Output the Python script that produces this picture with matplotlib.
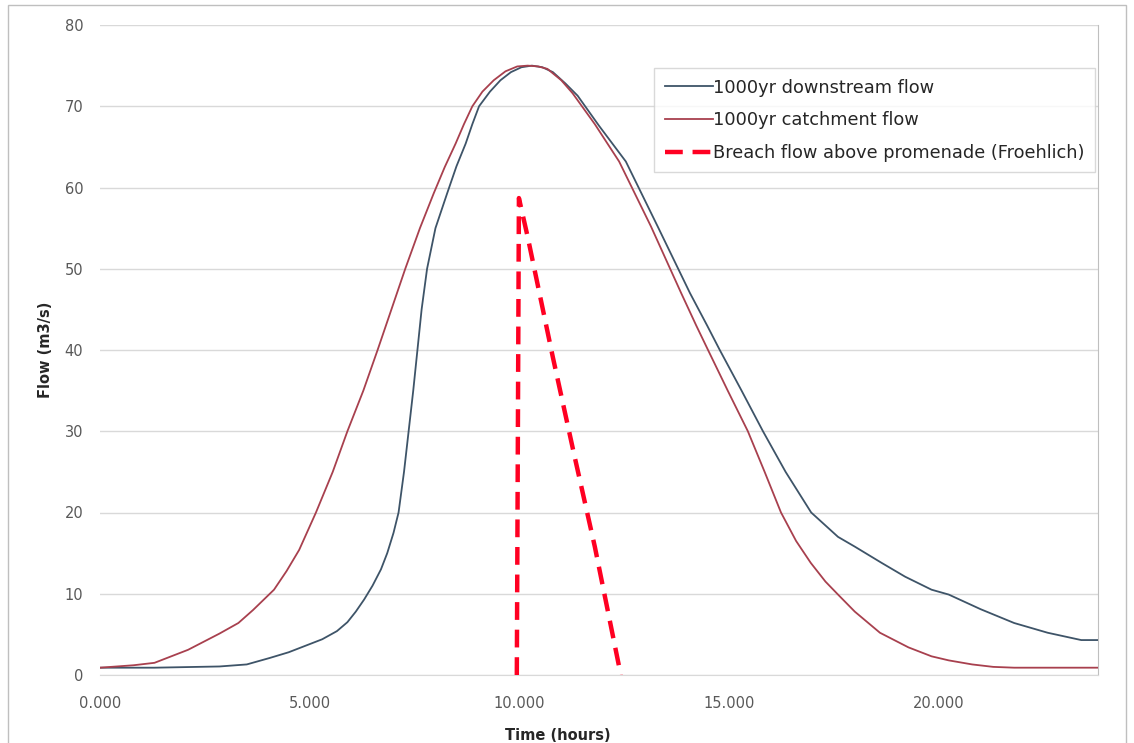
import matplotlib
matplotlib.use("Agg")
import matplotlib.pyplot as plt
from matplotlib.patches import Rectangle

# Hydrograph readings (time in hours, flow in m3/s)
catchment_t = [0.0, 0.8, 1.3, 2.1, 2.85, 3.3, 3.65, 4.15, 4.45, 4.75, 5.15, 5.55,
               5.9, 6.28, 6.62, 6.95, 7.28, 7.63, 7.96, 8.22, 8.48, 8.68, 8.88,
               9.12, 9.39, 9.67, 9.95, 10.2, 10.45, 10.67, 11.0, 11.27, 11.8,
               12.38, 13.14, 13.86, 14.22, 14.5, 14.97, 15.45, 15.85, 16.24,
               16.6, 16.95, 17.3, 17.6, 18.0, 18.6, 19.28, 19.83, 20.24, 20.8,
               21.3, 21.8, 23.8]
catchment_q = [0.9, 1.2, 1.5, 3.1, 5.1, 6.4, 8.0, 10.5, 12.8, 15.4, 20.0, 25.0,
               30.0, 35.0, 40.0, 45.0, 50.0, 55.0, 59.3, 62.5, 65.4, 67.8, 70.0,
               71.8, 73.2, 74.3, 74.9, 75.0, 74.9, 74.6, 73.2, 71.6, 67.8,
               63.2, 55.2, 47.0, 43.0, 40.0, 35.0, 30.0, 25.0, 20.0,
               16.5, 13.8, 11.5, 9.9, 7.8, 5.2, 3.4, 2.3, 1.8, 1.3,
               1.0, 0.9, 0.9]

downstream_t = [0.0, 1.3, 2.85, 3.5, 4.05, 4.5, 4.85, 5.3, 5.65, 5.9, 6.1, 6.3,
                6.5, 6.7, 6.85, 7.0, 7.12, 7.25, 7.36, 7.47, 7.57, 7.67, 7.8, 8.0,
                8.28, 8.5, 8.72, 8.88, 9.04, 9.3, 9.55, 9.8, 10.05, 10.3, 10.55,
                10.8, 11.1, 11.39, 11.9, 12.54, 13.3, 14.07, 14.48, 14.78, 15.3,
                15.81, 16.35, 16.96, 17.6, 18.0, 18.64, 19.2, 19.83, 20.24, 21.0,
                21.8, 22.6, 23.4, 23.8]
downstream_q = [0.9, 0.9, 1.05, 1.3, 2.1, 2.8, 3.5, 4.4, 5.4, 6.5, 7.8, 9.3,
                11.0, 13.0, 15.0, 17.5, 20.0, 25.0, 30.0, 35.0, 40.0, 45.0, 50.0, 55.0,
                59.3, 62.6, 65.4, 67.8, 70.0, 71.8, 73.2, 74.2, 74.8, 75.0, 74.8,
                74.2, 72.8, 71.3, 67.6, 63.2, 55.2, 47.0, 43.0, 40.0, 35.0,
                30.0, 25.0, 20.0, 17.0, 15.8, 13.8, 12.1, 10.5, 9.9, 8.1,
                6.4, 5.2, 4.3, 4.3]

breach_t = [9.94, 9.99, 10.2, 10.8, 11.3, 11.8, 12.42]
breach_q = [0.0, 58.7, 53.9, 39.1, 27.3, 15.8, 0.0]

x_ticks = [0, 5, 10, 15, 20]
y_ticks = [0, 10, 20, 30, 40, 50, 60, 70, 80]

W, H = 1134, 743
plt.rcParams.update({"font.family": "DejaVu Sans"})
fig = plt.figure(figsize=(W / 100, H / 100), dpi=100)
ax = fig.add_axes([100 / W, 1 - 675 / H, 998 / W, 650 / H])

grey_text = "#595959"
grid_col = "#D9D9D9"

ax.plot(downstream_t, downstream_q, color="#3E5468", lw=1.3, label="1000yr downstream flow", zorder=3)
ax.plot(catchment_t, catchment_q, color="#A8404E", lw=1.3, label="1000yr catchment flow", zorder=3)
ax.plot(breach_t, breach_q, color="#FF0022", lw=3.2, dashes=(4, 2.2),
        label="Breach flow above promenade (Froehlich)", zorder=4)

ax.set_xlim(0, 23.8)
ax.set_ylim(0, 80)
ax.set_xticks(x_ticks)
ax.set_xticklabels([f"{v:.3f}" for v in x_ticks])
ax.set_yticks(y_ticks)
ax.tick_params(axis="both", length=0, labelsize=10.5, labelcolor=grey_text)
ax.tick_params(axis="y", pad=12)
ax.tick_params(axis="x", pad=15)
ax.yaxis.grid(True, color=grid_col, lw=1.0)
ax.set_axisbelow(True)
for side in ("left", "top"):
    ax.spines[side].set_visible(False)
ax.spines["bottom"].set_color(grid_col)
ax.spines["right"].set_color("#BFBFBF")

fig.text(45 / W, 1 - 350 / H, "Flow (m3/s)", rotation=90, ha="center", va="center",
         fontsize=10.5, fontweight="bold", color="#262626")
fig.text(558 / W, 1 - 735 / H, "Time (hours)", ha="center", va="center",
         fontsize=10.5, fontweight="bold", color="#262626")

leg = ax.legend(loc="upper right", bbox_to_anchor=(995 / 998, 1 - 43 / 650),
                fontsize=12.8, handlelength=2.7, handletextpad=0.0, labelspacing=0.82,
                frameon=True, fancybox=False, borderpad=0.6, borderaxespad=0)
leg.get_frame().set_edgecolor("#D0D0D0")
leg.get_frame().set_linewidth(1.0)
for t in leg.get_texts():
    t.set_color("#262626")

# outer chart border
fig.patches.append(Rectangle((8 / W, -0.01), 1118 / W, 1 - 5 / H + 0.01, transform=fig.transFigure,
                             fill=False, edgecolor="#BFBFBF", lw=1.0))

fig.savefig("out.png", dpi=100)
